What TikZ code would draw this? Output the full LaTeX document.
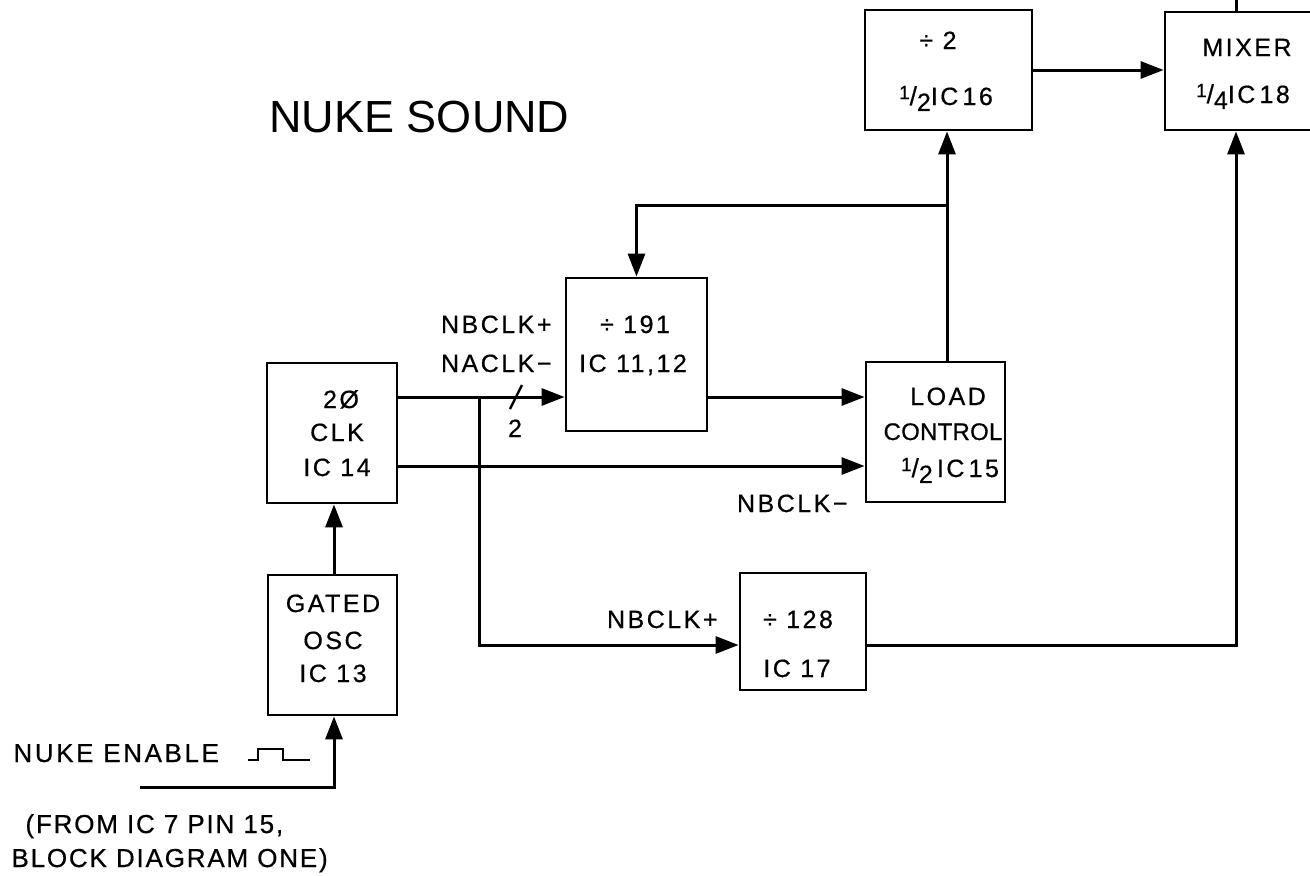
\documentclass[tikz,border=0pt]{standalone}
\usepackage{fontspec}
\setmainfont{Liberation Sans}[LetterSpace=10,FakeBold=0.6]
\newfontfamily\titlefont{Liberation Sans}
\usetikzlibrary{arrows.meta}
\newcommand{\fr}[2]{\raisebox{0.45ex}{\fontsize{19}{19}\selectfont #1}{\fontsize{26}{26}\selectfont/}\raisebox{-0.45ex}{#2}}
\begin{document}
\begin{tikzpicture}[x=1pt,y=-1pt,line width=3pt,
  box/.style={draw,line width=2.8pt,inner sep=0pt},
  txt/.style={font=\fontsize{25}{28}\selectfont,anchor=base,inner sep=0pt},
  lbl/.style={font=\fontsize{25}{28}\selectfont,anchor=base east,inner sep=0pt},
  big/.style={font=\fontsize{26}{30}\selectfont,anchor=base west,inner sep=0pt},
  arr/.style={-{Triangle[length=23pt,width=17pt]}}]
\useasboundingbox (0,0) rectangle (1310,876);
\clip (0,0) rectangle (1310,876);
% boxes
\node[box,minimum width=167pt,minimum height=120pt] (div2) at (948.5,70) {};
\node[box,minimum width=155pt,minimum height=118pt] (mixer) at (1242.5,71) {};
\node[box,minimum width=141pt,minimum height=153pt] (div191) at (636.5,354.5) {};
\node[box,minimum width=130pt,minimum height=140pt] (clk) at (332,433) {};
\node[box,minimum width=139pt,minimum height=140pt] (load) at (935.5,432) {};
\node[box,minimum width=126pt,minimum height=117pt] (div128) at (803,631.5) {};
\node[box,minimum width=129pt,minimum height=140pt] (osc) at (332.5,645) {};
% box texts
\node[txt] (t2a) at (938,49) {÷ 2};
\node[txt] (t2b) at (946,105) {\fr{1}{2}IC\,16};
\node[txt] (tma) at (1247,56) {MIXER};
\node[txt] (tmb) at (1243,103) {\fr{1}{4}IC\,18};
\node[txt] (t191a) at (635,333) {÷ 191};
\node[txt] (t191b) at (633,372) {IC 11,12};
\node[txt] (tca) at (341,408) {2Ø};
\node[txt] (tcb) at (337,441) {CLK};
\node[txt] (tcc) at (337,476) {IC 14};
\node[txt] (tla) at (948,405) {LOAD};
\node[txt,font=\addfontfeatures{LetterSpace=1}\fontsize{24}{28}\selectfont] (tlb) at (943,440) {CONTROL};
\node[txt] (tlc) at (950,477) {\fr{1}{2}\,IC\,15};
\node[txt] (t128a) at (798,628) {÷ 128};
\node[txt] (t128b) at (797,677) {IC 17};
\node[txt] (toa) at (333,612) {GATED};
\node[txt] (tob) at (333,649) {OSC};
\node[txt] (toc) at (333,682) {IC 13};
% labels
\node[lbl] (nb1) at (553,333) {NBCLK+};
\node[lbl] (na1) at (553,372) {NACLK−};
\node[txt] (two) at (515,437) {2};
\node[lbl] (nbm) at (849,512) {NBCLK−};
\node[lbl] (nb2) at (719,628) {NBCLK+};
\node[font=\titlefont\fontsize{45}{50}\selectfont,anchor=base west,inner sep=0pt] (title) at (268,132) {NUKE SOUND};
\node[big] (en) at (12,762) {NUKE ENABLE};
\node[big,font=\addfontfeatures{LetterSpace=7}\fontsize{26}{30}\selectfont] (from1) at (24,833) {(FROM IC 7 PIN 15,};
\node[big,font=\addfontfeatures{LetterSpace=7}\fontsize{26}{30}\selectfont] (from2) at (10,867) {BLOCK DIAGRAM ONE)};
% pulse symbol
\draw[line width=2.4pt] (248,760) -- (258,760) -- (258,749) -- (283,749) -- (283,760) -- (310,760);
% bus slash
\draw[line width=2.4pt] (510,409) -- (522,385);
% coordinates
\coordinate (ya) at (0,397);
\coordinate (yb) at (0,466);
\coordinate (j1) at (947,205);
\coordinate (j2) at (479,397);
\coordinate (j3) at (1236,645);
\coordinate (xo) at (334,0);
\coordinate (enin) at (140,787);
\coordinate (mixout) at (1236,-5);
% connectors
\draw[arr] (div2.east) -- (div2.east -| mixer.west);
\draw (mixout) -- (mixout |- mixer.north);
\draw (load.north -| j1) -- (j1);
\draw[arr] (j1) -- (j1 |- div2.south);
\draw[arr] (j1) -- (j1 -| div191.north) -- (div191.north);
\draw[arr] (clk.east |- ya) -- (div191.west |- ya);
\draw[arr] (div191.east |- ya) -- (load.west |- ya);
\draw[arr] (clk.east |- yb) -- (load.west |- yb);
\draw[arr] (j2) -- (j2 |- j3) -- (div128.west |- j3);
\draw[arr] (div128.east |- j3) -- (j3) -- (j3 |- mixer.south);
\draw[arr] (osc.north -| xo) -- (clk.south -| xo);
\draw[arr] (enin) -- (enin -| xo) -- (osc.south -| xo);
\end{tikzpicture}
\end{document}
